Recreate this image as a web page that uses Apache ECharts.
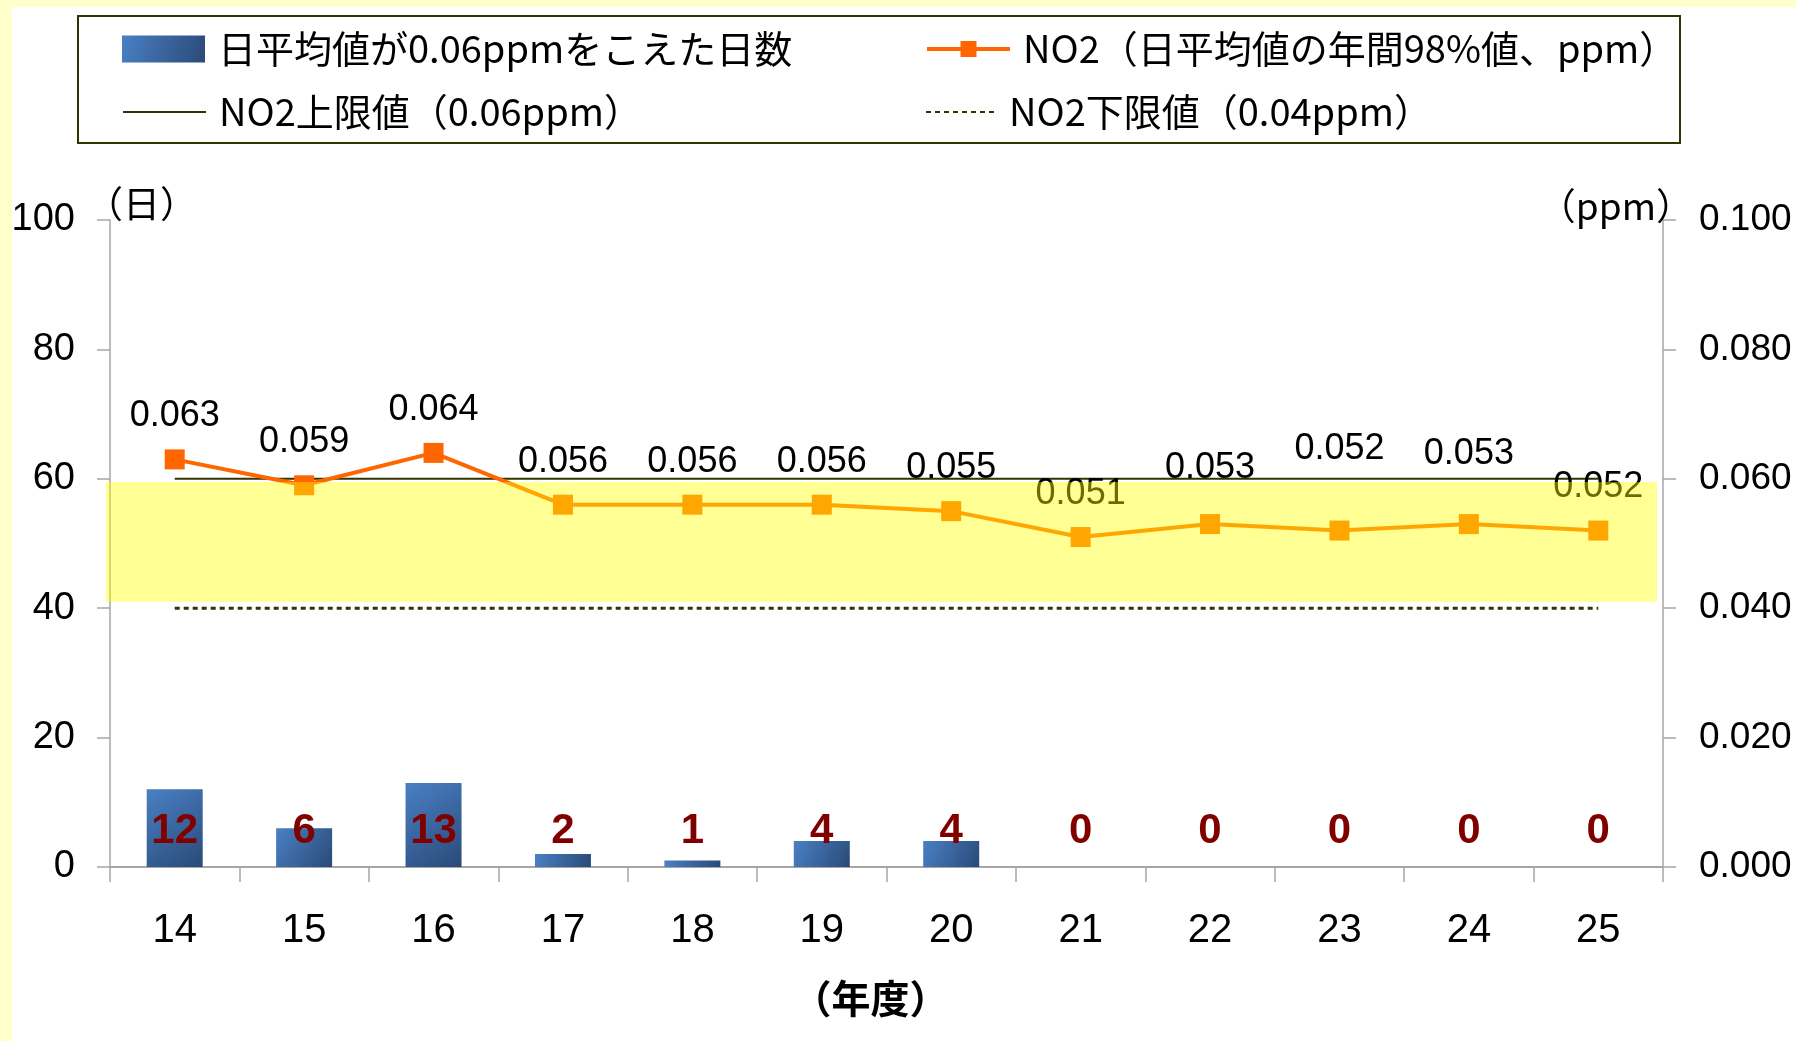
<!DOCTYPE html>
<html>
<head>
<meta charset="utf-8">
<script src="https://cdn.jsdelivr.net/npm/echarts@6/dist/echarts.min.js"></script>
<style>
html,body{margin:0;padding:0;background:#FFFFCC;}
#chart{width:1796px;height:1041px;}
</style>
</head>
<body>
<div id="chart"></div>
<script>
// ---- data ----
const years = ['14', '15', '16', '17', '18', '19', '20', '21', '22', '23', '24', '25'];
const daysOver = [12, 6, 13, 2, 1, 4, 4, 0, 0, 0, 0, 0];
const no2P98 = [0.063, 0.059, 0.064, 0.056, 0.056, 0.056, 0.055, 0.051, 0.053, 0.052, 0.053, 0.052];
const upperLimit = [0.06, 0.06, 0.06, 0.06, 0.06, 0.06, 0.06, 0.06, 0.06, 0.06, 0.06, 0.06];
const lowerLimit = [0.04, 0.04, 0.04, 0.04, 0.04, 0.04, 0.04, 0.04, 0.04, 0.04, 0.04, 0.04];
const bandRange = [0.041, 0.0595];
const leftAxisRange = [0, 100, 20];
const rightAxisRange = [0, 0.1, 0.02];
const names = {
  bar: '日平均値が0.06ppmをこえた日数',
  line: 'NO2（日平均値の年間98%値、ppm）',
  upper: 'NO2上限値（0.06ppm）',
  lower: 'NO2下限値（0.04ppm）'
};
const leftUnit = '（日）';
const rightUnit = '（ppm）';
const xTitle = '（年度）';

// ---- style only ----
const labelLift = [0, 0, 0, 0, 0, 0, 0, 0, 13, 38, 27, 0];
const JP = '"Noto Sans CJK JP", "Noto Sans", sans-serif';
const NUM = '"Liberation Sans", Arial, sans-serif';
const NARROW = '"Liberation Sans Narrow", "Liberation Sans", sans-serif';
const axisGrey = '#A6A6A6';
const olive = '#333300';

const chart = echarts.init(document.getElementById('chart'), null, {renderer: 'canvas'});

const barGradient = new echarts.graphic.LinearGradient(0, 0, 1, 1, [
  {offset: 0, color: '#4A80C4'},
  {offset: 1, color: '#2A4A78'}
]);

const legendText = {fontFamily: JP, fontSize: 38, color: '#000', padding: [0, 0, 0, 8]};
function mkLegend(name, left, top, w, h, extra) {
  return Object.assign({
    data: [name], left: left, top: top, padding: 0, itemWidth: w, itemHeight: h,
    selectedMode: false, textStyle: legendText
  }, extra || {});
}

const option = {
  backgroundColor: '#FFFFCC',
  animation: false,
  graphic: [
    {type: 'rect', z: -10, left: 12, top: 7, shape: {width: 1784, height: 1034}, style: {fill: '#FFFFFF'}},
    {type: 'rect', z: 1, left: 77, top: 15, shape: {width: 1602, height: 127}, style: {fill: '#FFFFFF', stroke: olive, lineWidth: 2}},
    {type: 'text', z: 5, left: 86, top: 185, style: {text: leftUnit, font: '37px ' + JP, fill: '#000'}},
    {type: 'text', z: 5, right: 103, top: 187, style: {text: rightUnit, font: '37px ' + JP, fill: '#000'}}
  ],
  legend: [
    mkLegend(names.bar, 122, 30, 83, 27, {icon: 'rect'}),
    mkLegend(names.line, 925, 30, 83, 20, {lineStyle: {width: 4}}),
    mkLegend(names.upper, 122, 93, 83, 20, {itemStyle: {opacity: 0}}),
    mkLegend(names.lower, 925, 93, 70, 20, {itemStyle: {opacity: 0}})
  ],
  grid: {left: 110, right: 133, top: 220, bottom: 174, containLabel: false},
  xAxis: {
    type: 'category',
    data: years,
    boundaryGap: true,
    name: xTitle,
    nameLocation: 'middle',
    nameGap: 112,
    nameTextStyle: {fontFamily: JP, fontSize: 39, fontWeight: 'bold', color: '#000', padding: [0, 32, 0, 0]},
    axisLine: {show: true, lineStyle: {color: axisGrey, width: 2}},
    axisTick: {show: true, length: 15, alignWithLabel: false, lineStyle: {color: axisGrey, width: 1.5}},
    axisLabel: {margin: 44, fontFamily: NARROW, fontSize: 40, color: '#000'},
    splitLine: {show: false}
  },
  yAxis: [
    {
      type: 'value', min: leftAxisRange[0], max: leftAxisRange[1], interval: leftAxisRange[2],
      position: 'left',
      axisLine: {show: true, lineStyle: {color: axisGrey, width: 1.5}},
      axisTick: {show: true, length: 13, lineStyle: {color: axisGrey, width: 1.5}},
      axisLabel: {margin: 35, fontFamily: NUM, fontSize: 38, color: '#000'},
      splitLine: {show: false}
    },
    {
      type: 'value', min: rightAxisRange[0], max: rightAxisRange[1], interval: rightAxisRange[2],
      position: 'right',
      axisLine: {show: true, lineStyle: {color: axisGrey, width: 1.5}},
      axisTick: {show: true, length: 13, lineStyle: {color: axisGrey, width: 1.5}},
      axisLabel: {margin: 36, fontFamily: NUM, fontSize: 37, color: '#000', formatter: v => v.toFixed(3)},
      splitLine: {show: false}
    }
  ],
  series: [
    {
      name: names.bar,
      type: 'bar',
      yAxisIndex: 0,
      data: daysOver,
      barWidth: 56,
      itemStyle: {color: barGradient},
      label: {
        show: true, position: 'insideBottom', distance: 15,
        fontFamily: NARROW, fontWeight: 'bold', fontSize: 42, color: '#800000'
      },
      z: 2
    },
    {
      name: names.line,
      type: 'line',
      yAxisIndex: 1,
      data: no2P98.map((v, i) => ({value: v, label: {offset: [0, -labelLift[i]]}})),
      symbol: 'rect',
      symbolSize: 20,
      lineStyle: {color: '#FF6600', width: 4},
      itemStyle: {color: '#FF6600'},
      label: {
        show: true, position: 'top', distance: 15,
        fontFamily: NUM, fontSize: 36, color: '#000',
        formatter: p => p.value.toFixed(3)
      },
      z: 4
    },
    {
      name: names.upper,
      type: 'line',
      yAxisIndex: 1,
      data: upperLimit,
      symbol: 'none',
      lineStyle: {color: olive, width: 2, type: 'solid'},
      itemStyle: {color: olive},
      z: 3
    },
    {
      name: names.lower,
      type: 'line',
      yAxisIndex: 1,
      data: lowerLimit,
      symbol: 'none',
      lineStyle: {color: olive, width: 3, type: [5, 4]},
      itemStyle: {color: olive},
      z: 3
    },
    {
      type: 'custom',
      yAxisIndex: 1,
      silent: true,
      z: 10,
      data: [[0, bandRange[0], bandRange[1]]],
      encode: {x: 0, y: [1, 2]},
      renderItem: function (params, api) {
        const cs = params.coordSys;
        const yLow = api.coord([0, api.value(1)])[1];
        const yHigh = api.coord([0, api.value(2)])[1];
        return {
          type: 'rect',
          shape: {x: cs.x - 4, y: yHigh, width: cs.width - 2, height: yLow - yHigh},
          style: {fill: 'rgba(255,255,0,0.42)'}
        };
      }
    }
  ]
};

chart.setOption(option);
</script>
</body>
</html>
